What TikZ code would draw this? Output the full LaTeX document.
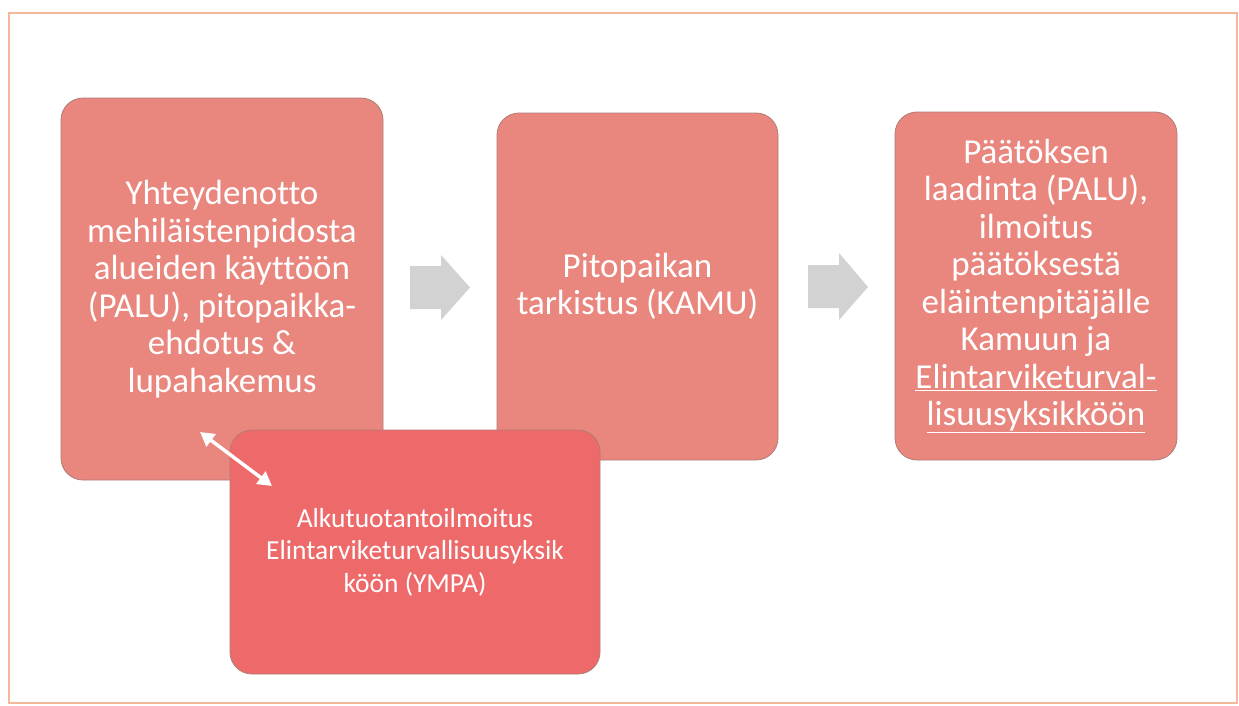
\documentclass[tikz,border=0pt]{standalone}
\usepackage{fontspec}
\setmainfont{Carlito}[Ligatures={NoCommon}]
\usetikzlibrary{arrows.meta}
\definecolor{salmon}{RGB}{233,134,126}
\definecolor{redbox}{RGB}{238,106,106}
\definecolor{edge}{RGB}{175,125,120}
\definecolor{framec}{RGB}{243,185,155}
\definecolor{arrowgray}{RGB}{210,210,210}
\tikzset{
  stepbox/.style={rectangle, rounded corners=22pt, fill=salmon, draw=edge, line width=0.8pt,
     text=white, align=center, inner sep=0pt, font=\fontsize{35}{37.5}\selectfont},
  redstepbox/.style={stepbox, fill=redbox, font=\fontsize{27.5}{32.5}\selectfont},
  blockarrow/.style={fill=arrowgray, draw=none},
  linkarrow/.style={draw=white, line width=3.5pt, {Triangle[length=14pt,width=15pt]}-{Triangle[length=14pt,width=15pt]}}
}
\begin{document}
\begin{tikzpicture}[x=1pt,y=-1pt]
\useasboundingbox (0,0) rectangle (1239,705);
\fill[white] (0,0) rectangle (1239,705);
\draw[framec, line width=1.2pt] (9,13) rectangle (1237,703);

\node[stepbox, minimum width=322pt, minimum height=382pt] (b1) at (222,289)
  {Yhteydenotto\\mehiläistenpidosta\\alueiden käyttöön\\(PALU), pitopaikka-\\ehdotus \&\\lupahakemus};
\node[stepbox, minimum width=281pt, minimum height=347pt] (b2) at (637.5,286.5)
  {Pitopaikan\\tarkistus (KAMU)};
\node[stepbox, minimum width=282pt, minimum height=348pt] (b3) at (1036,286)
  {Päätöksen\\laadinta (PALU),\\ilmoitus\\päätöksestä\\eläintenpitäjälle\\Kamuun ja\\\underline{Elintarviketurval-}\\\underline{lisuusyksikköön}};
\node[redstepbox, minimum width=370pt, minimum height=244pt] (b4) at (415,552)
  {Alkutuotantoilmoitus\\Elintarviketurvallisuusyksik\\köön (YMPA)};

\coordinate (l1) at (200,432);
\coordinate (l2) at (272,486);
\draw[linkarrow] (l1) -- (l2);

\fill[blockarrow] (410,266) -- (441,266) -- (441,255) -- (470,287.5) -- (441,320) -- (441,309) -- (410,309) -- cycle;
\fill[blockarrow] (808,265) -- (839,265) -- (839,253) -- (868,287) -- (839,320) -- (839,308) -- (808,308) -- cycle;
\end{tikzpicture}
\end{document}
